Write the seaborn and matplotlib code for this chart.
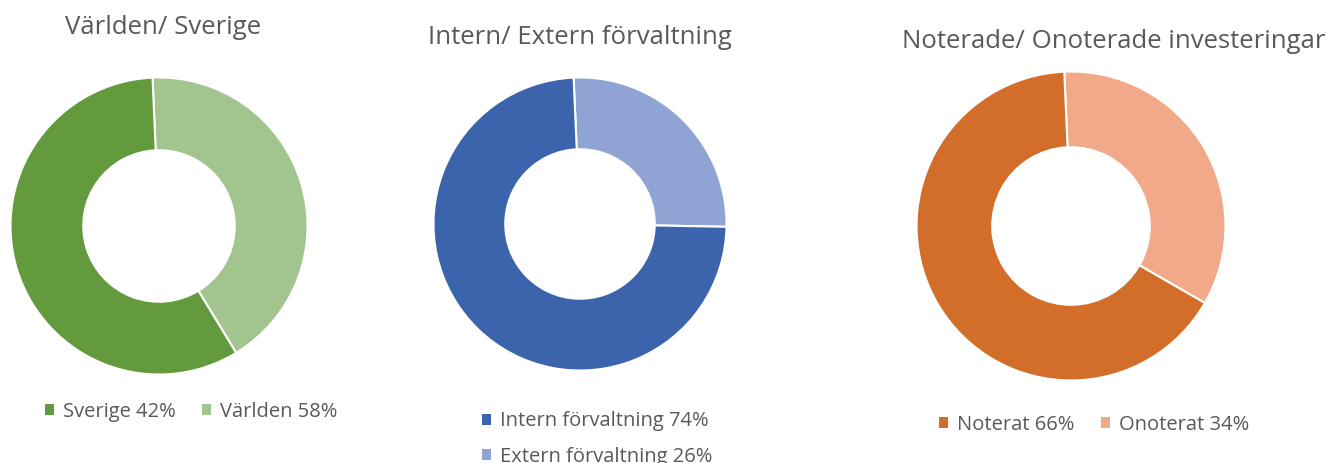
import matplotlib
matplotlib.use('Agg')
import matplotlib.pyplot as plt
import seaborn as sns
from matplotlib.patches import Patch

sns.set_theme(style='white')
plt.rcParams['font.family'] = ['Open Sans', 'DejaVu Sans']

# data
titles = ['Världen/ Sverige', 'Intern/ Extern förvaltning', 'Noterade/ Onoterade investeringar']
# slices drawn clockwise from the top (light slice first)
slice_values = [[42, 58], [26, 74], [34, 66]]
slice_colors = [['#a2c48f', '#629a3d'], ['#8fa3d4', '#3b64ac'], ['#f1a98a', '#d36e2a']]
legend_labels = [['Sverige 42%', 'Världen 58%'],
                 ['Intern förvaltning 74%', 'Extern förvaltning 26%'],
                 ['Noterat 66%', 'Onoterat 34%']]
legend_colors = [['#629a3d', '#a2c48f'], ['#3b64ac', '#8fa3d4'], ['#d36e2a', '#f1a98a']]

W, H = 1329, 463
fig = plt.figure(figsize=(W / 100, H / 100), dpi=100)
txt = '#595959'

# pixel layout: donut centre x, centre y, radius
donuts = [(159, 226, 150), (580, 224, 148), (1071, 226, 156)]
title_pos = [(163, 28), (580, 38), (1114, 42)]
leg_pos = [(35, 412, 2), (472, 439, 1), (929, 425, 2)]

for i in range(3):
    cx, cy, r = donuts[i]
    ax = fig.add_axes([(cx - r) / W, (H - cy - r) / H, 2 * r / W, 2 * r / H])
    ax.pie(slice_values[i], colors=slice_colors[i], startangle=92.5, counterclock=False,
           radius=1, wedgeprops=dict(width=0.49, edgecolor='white', linewidth=1.5))
    ax.set_xlim(-1.01, 1.01)
    ax.set_ylim(-1.01, 1.01)
    ax.set_aspect('equal')
    ax.axis('off')

    tx, ty = title_pos[i]
    fig.text(tx / W, 1 - ty / H, titles[i], ha='center', va='center', fontsize=18.5, color=txt)

    lx, ly, nc = leg_pos[i]
    handles = [Patch(facecolor=c, edgecolor='none') for c in legend_colors[i]]
    fig.legend(handles, legend_labels[i], loc='center left', bbox_to_anchor=(lx / W, 1 - ly / H),
               ncol=nc, frameon=False, fontsize=14.5, labelcolor=txt, borderpad=0,
               handlelength=0.45, handleheight=0.45, handletextpad=0.45,
               columnspacing=1.3, labelspacing=0.75)

fig.savefig('out.png', dpi=100, facecolor='white')
